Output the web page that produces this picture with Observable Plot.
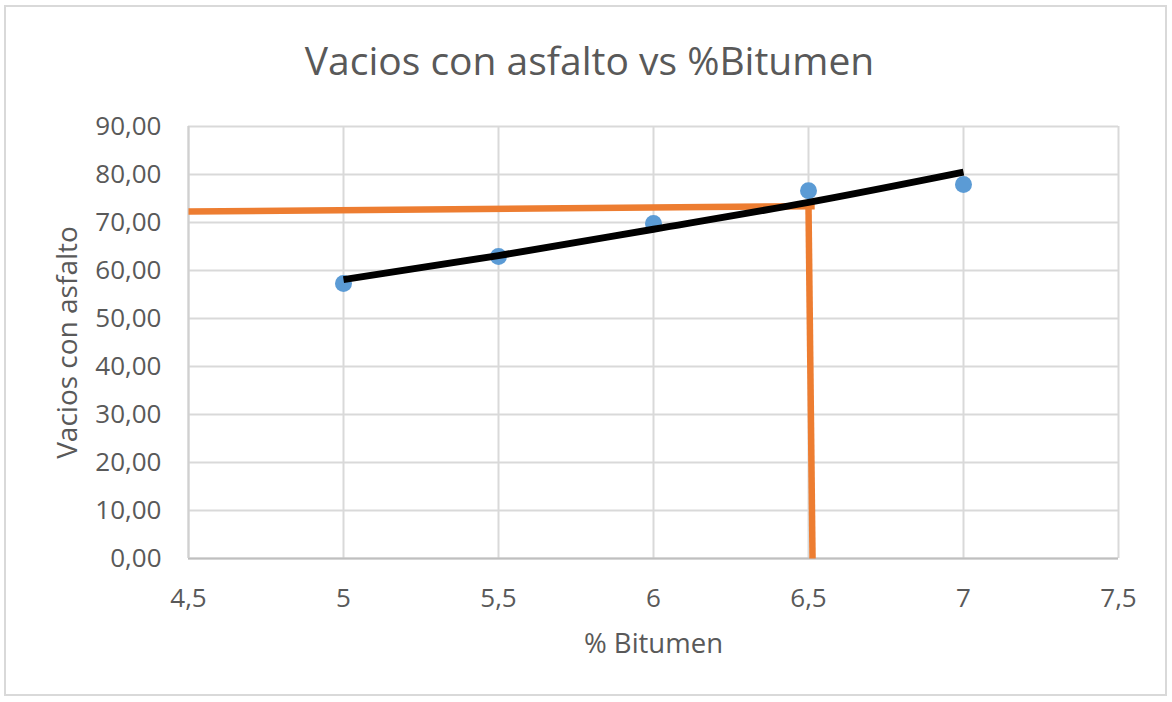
<!DOCTYPE html>
<html>
<head>
<meta charset="utf-8">
<script src="https://cdn.jsdelivr.net/npm/d3@7"></script>
<script src="https://cdn.jsdelivr.net/npm/@observablehq/plot@0.6"></script>
<style>
  html, body { margin: 0; padding: 0; background: #fff; }
  #chart { position: relative; width: 1172px; height: 702px; overflow: hidden; font-family: "Open Sans", sans-serif; }
  #border { position: absolute; left: 4px; top: 5px; width: 1163px; height: 691px; border: 2px solid #d9d9d9; box-sizing: border-box; pointer-events: none; }
  #title { height: 100px; line-height: 120px; text-align: center; font-size: 39px; color: #595959; white-space: nowrap; padding-left: 7px; }
  svg { display: block; }
</style>
</head>
<body>
<div id="chart">
  <div id="border"></div>
  <div id="title">Vacios con asfalto vs %Bitumen</div>
</div>
<script>
// Measured series: % bitumen vs voids filled with asphalt
const bitumen = [5, 5.5, 6, 6.5, 7];
const vacios = [57.3, 62.9, 69.8, 76.6, 77.9];

// Exponential trend line, sampled at each bitumen content
const trendX = [5, 5.5, 6, 6.5, 7];
const trendY = [58.1, 63.1, 68.6, 74.2, 80.5];

// Reading lines for the design value (horizontal to the y axis, vertical to the x axis)
const readHX = [4.5, 6.52];
const readHY = [72.3, 73.4];
const readVX = [6.5, 6.513];
const readVY = [73.4, 0];

// Axis ticks
const xTicks = [4.5, 5, 5.5, 6, 6.5, 7, 7.5];
const yTicks = [0, 10, 20, 30, 40, 50, 60, 70, 80, 90];

const points = bitumen.map((x, i) => ({x, y: vacios[i]}));
const trend = trendX.map((x, i) => ({x, y: trendY[i]}));
const readH = readHX.map((x, i) => ({x, y: readHY[i]}));
const readV = readVX.map((x, i) => ({x, y: readVY[i]}));

const comma = (s) => s.replace(".", ",");

const chart = Plot.plot({
  width: 1172,
  height: 602,
  marginTop: 26,
  marginBottom: 144,
  marginLeft: 188,
  marginRight: 54,
  style: {fontFamily: "Open Sans", fontSize: "26px", color: "#595959", background: "transparent", overflow: "visible"},
  x: {domain: [4.5, 7.5]},
  y: {domain: [0, 90]},
  marks: [
    Plot.gridX(xTicks, {stroke: "#d9d9d9", strokeOpacity: 1, strokeWidth: 2}),
    Plot.gridY(yTicks, {stroke: "#d9d9d9", strokeOpacity: 1, strokeWidth: 2}),
    Plot.ruleY([0], {stroke: "#bfbfbf", strokeWidth: 2}),
    Plot.ruleX([4.5], {stroke: "#d0d0d0", strokeWidth: 2}),
    Plot.axisX(xTicks, {tickSize: 0, tickPadding: 30, tickFormat: (d) => comma(String(d)), label: null, fontSize: 26}),
    Plot.axisY(yTicks, {tickSize: 0, tickPadding: 27, tickFormat: (d) => comma(d.toFixed(2)), label: null, fontSize: 26}),
    Plot.text(["% Bitumen"], {frameAnchor: "bottom", dy: 94, fontSize: 27.5, fill: "#595959"}),
    Plot.text(["Vacios con asfalto"], {frameAnchor: "left", textAnchor: "middle", rotate: -90, dx: -120, fontSize: 28, fill: "#595959"}),
    Plot.line(readH, {x: "x", y: "y", stroke: "#ed7d31", strokeWidth: 6.5, strokeLinecap: "butt"}),
    Plot.line(readV, {x: "x", y: "y", stroke: "#ed7d31", strokeWidth: 6.5, strokeLinecap: "butt"}),
    Plot.dot(points, {x: "x", y: "y", r: 8.5, fill: "#5b9bd5", stroke: "none"}),
    Plot.line(trend, {x: "x", y: "y", curve: "natural", stroke: "#000", strokeWidth: 7, strokeLinecap: "butt"})
  ]
});

document.getElementById("chart").appendChild(chart);
</script>
</body>
</html>
